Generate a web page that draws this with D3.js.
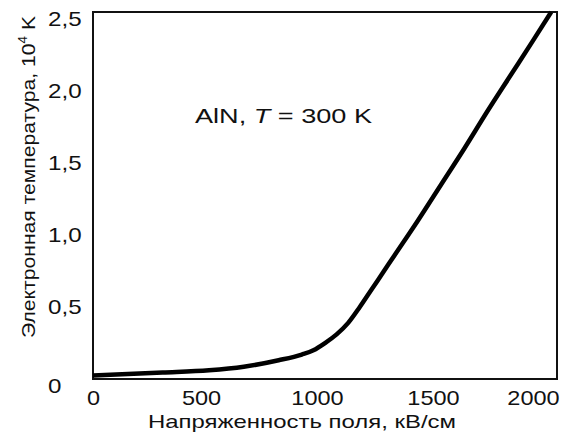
<!DOCTYPE html>
<html>
<head>
<meta charset="utf-8">
<script src="https://cdn.jsdelivr.net/npm/d3@7"></script>
<style>
  body { margin: 0; background: #fff; }
  text { font-family: "Liberation Sans", Arial, sans-serif; fill: #111; }
</style>
</head>
<body>
<svg id="chart" width="563" height="434"></svg>
<script>
// Data
const fieldKVcm = [0, 150, 300, 500, 650, 800, 900, 950, 1000, 1050, 1100, 1150, 1200, 1250, 1300, 1400, 1500, 1600, 1700, 1800, 1900, 1975];
const tempE4K  = [0.025, 0.035, 0.045, 0.06, 0.085, 0.13, 0.17, 0.2, 0.25, 0.31, 0.39, 0.5, 0.62, 0.74, 0.86, 1.1, 1.35, 1.6, 1.86, 2.11, 2.36, 2.55];
const xTicks = [0, 500, 1000, 1500, 2000];
const yTicks = [0, 0.5, 1.0, 1.5, 2.0, 2.5];
const yTickLabels = ["0", "0,5", "1,0", "1,5", "2,0", "2,5"];
const xTitle = "Напряженность поля, кВ/см";
const yTitle = "Электронная температура, 10";
const annotation = { prefix: "AlN, ", italic: "T", suffix: " = 300 K" };

const svg = d3.select("#chart");
const mLeft = 93, mRight = 557, mTop = 12, mBottom = 379;

const x = d3.scaleLinear().domain([0, 2000]).range([mLeft, mRight]);
const y = d3.scaleLinear().domain([0, 2.55]).range([mBottom, mTop]);

// horizontal stretch helper (the scanned reference text is wider than its height suggests)
function stretch(sel, factor) {
  sel.each(function() {
    const w = this.getComputedTextLength();
    d3.select(this).attr("textLength", w * factor).attr("lengthAdjust", "spacingAndGlyphs");
  });
}

// X axis labels
const xAxis = svg.append("g").attr("transform", `translate(0,${mBottom})`)
  .call(d3.axisBottom(x).tickValues(xTicks).tickSize(0).tickFormat(d3.format("d")));
xAxis.select(".domain").remove();
xAxis.selectAll("text")
  .attr("font-size", 21)
  .attr("font-family", "Liberation Sans, Arial, sans-serif")
  .attr("fill", "#111")
  .attr("y", 11)
  .attr("dx", (d, i) => i === 0 ? 0 : (i === xTicks.length - 1 ? -24 : -8));
stretch(xAxis.selectAll("text"), 1.12);

// Y axis labels
const yAxis = svg.append("g").attr("transform", `translate(${mLeft},0)`)
  .call(d3.axisLeft(y).tickValues(yTicks).tickSize(0).tickFormat((d, i) => yTickLabels[i]));
yAxis.select(".domain").remove();
yAxis.selectAll("text")
  .attr("font-size", 21)
  .attr("font-family", "Liberation Sans, Arial, sans-serif")
  .attr("fill", "#111")
  .attr("text-anchor", "start")
  .attr("x", 48 - mLeft)
  .attr("dy", (d) => d === 0 ? "0.65em" : "0.32em");
stretch(yAxis.selectAll("text"), 1.15);

// Frame
svg.append("rect")
  .attr("x", mLeft).attr("y", mTop)
  .attr("width", mRight - mLeft).attr("height", mBottom - mTop)
  .attr("fill", "none").attr("stroke", "#111").attr("stroke-width", 2);

// Curve
const pts = fieldKVcm.map((e, i) => [e, tempE4K[i]]);
svg.append("path")
  .datum(pts)
  .attr("fill", "none")
  .attr("stroke", "#000")
  .attr("stroke-width", 4.5)
  .attr("stroke-linejoin", "round")
  .attr("d", d3.line().x(d => x(d[0])).y(d => y(d[1])).curve(d3.curveMonotoneX));

// Annotation
const ann = svg.append("text").attr("x", 195).attr("y", 123).attr("font-size", 20)
  .attr("textLength", 177).attr("lengthAdjust", "spacingAndGlyphs");
ann.append("tspan").text(annotation.prefix);
ann.append("tspan").attr("font-style", "italic").text(annotation.italic);
ann.append("tspan").text(annotation.suffix);

// X title
svg.append("text")
  .attr("x", 302).attr("y", 428)
  .attr("text-anchor", "middle")
  .attr("font-size", 19)
  .attr("textLength", 308).attr("lengthAdjust", "spacingAndGlyphs")
  .text(xTitle);

// Y title
const yt = svg.append("text")
  .attr("transform", "translate(35,177) rotate(-90)")
  .attr("text-anchor", "middle")
  .attr("font-size", 19)
  .attr("textLength", 322).attr("lengthAdjust", "spacingAndGlyphs");
yt.append("tspan").text(yTitle);
yt.append("tspan").attr("font-size", 12).attr("dy", -8).text("4");
yt.append("tspan").attr("dy", 8).text(" K");
</script>
</body>
</html>
